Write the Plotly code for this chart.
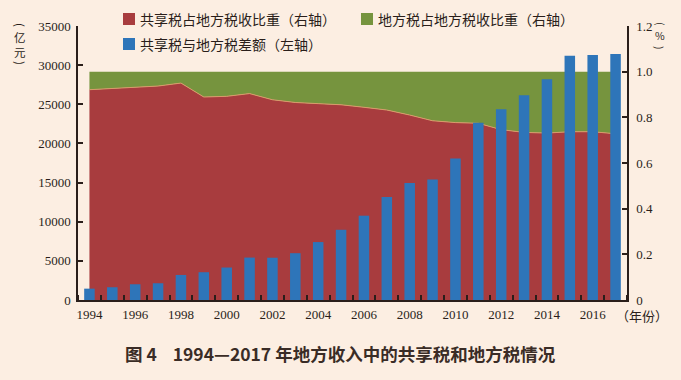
import plotly.graph_objects as go

years = [1994, 1995, 1996, 1997, 1998, 1999, 2000, 2001, 2002, 2003, 2004, 2005,
         2006, 2007, 2008, 2009, 2010, 2011, 2012, 2013, 2014, 2015, 2016, 2017]
shared_share = [0.921, 0.927, 0.931, 0.937, 0.950, 0.889, 0.892, 0.904, 0.877, 0.865, 0.860, 0.855,
                0.844, 0.832, 0.810, 0.785, 0.777, 0.774, 0.746, 0.734, 0.731, 0.737, 0.737, 0.728]
local_share = [0.079, 0.073, 0.069, 0.063, 0.050, 0.111, 0.108, 0.096, 0.123, 0.135, 0.140, 0.145,
               0.156, 0.168, 0.190, 0.215, 0.223, 0.226, 0.254, 0.266, 0.269, 0.263, 0.263, 0.272]
gap = [1450, 1630, 2010, 2140, 3200, 3550, 4150, 5420, 5400, 5980, 7400, 8970,
       10770, 13160, 14960, 15380, 18080, 22650, 24360, 26150, 28200, 31190, 31280, 31410]

x_labels = [1994, 1996, 1998, 2000, 2002, 2004, 2006, 2008, 2010, 2012, 2014, 2016]
left_ticks = [0, 5000, 10000, 15000, 20000, 25000, 30000, 35000]
right_ticks = [0, 0.2, 0.4, 0.6, 0.8, 1.0, 1.2]
right_text = ["0", "0.2", "0.4", "0.6", "0.8", "1.0", "1.2"]

RED = "#A83C3E"
GREEN = "#76943E"
BLUE = "#2E75B9"
BG = "#FCEEE2"
INK = "#2A1E1A"

names = ["共享税占地方税收比重（右轴）", "地方税占地方税收比重（右轴）", "共享税与地方税差额（左轴）"]

fig = go.Figure()
fig.add_trace(go.Scatter(x=years, y=shared_share, name=names[0], stackgroup="s",
                         mode="lines", line=dict(color="#D99A6A", width=1),
                         fillcolor=RED, yaxis="y", showlegend=False))
fig.add_trace(go.Scatter(x=years, y=local_share, name=names[1], stackgroup="s",
                         mode="lines", line=dict(color=GREEN, width=0),
                         fillcolor=GREEN, yaxis="y", showlegend=False))
fig.add_trace(go.Bar(x=years, y=gap, name=names[2], marker=dict(color=BLUE, line=dict(width=0)),
                     yaxis="y2", showlegend=False))

tickfont = dict(family="Liberation Serif", size=13, color=INK)
cjk = "Noto Sans CJK SC"

fig.update_layout(
    width=681, height=380,
    margin=dict(l=78, r=54, t=26, b=80),
    paper_bgcolor=BG, plot_bgcolor=BG,
    bargap=0.54,
    xaxis=dict(range=[1993.5, 2017.5], tickmode="array", tickvals=x_labels,
               ticks="", showline=True, linecolor=INK, linewidth=1.5,
               showgrid=False, zeroline=False, tickfont=tickfont, ticklabelstandoff=2,
               minor=dict(tickmode="linear", tick0=0.5, dtick=1, ticks="inside",
                          ticklen=5, tickwidth=1.5, tickcolor=INK, showgrid=False)),
    yaxis=dict(side="right", range=[0, 1.2], tickmode="array", tickvals=right_ticks,
               ticktext=right_text, ticks="inside", ticklen=5, tickwidth=1.5, tickcolor=INK,
               showline=True, linecolor=INK, linewidth=1.5, showgrid=False, zeroline=False,
               tickfont=tickfont, ticklabelstandoff=5),
    yaxis2=dict(side="left", overlaying="y", range=[0, 35000], tickmode="array",
                tickvals=left_ticks, tickformat="d", ticks="inside", ticklen=5, tickwidth=1.5,
                tickcolor=INK, showline=True, linecolor=INK, linewidth=1.5, showgrid=False,
                zeroline=False, tickfont=tickfont, ticklabelstandoff=3),
)

# Legend drawn manually
legend_items = [
    (names[0], RED, 123, 19),
    (names[1], GREEN, 361, 19),
    (names[2], BLUE, 123, 44),
]
for text, color, px, py in legend_items:
    fig.add_shape(type="rect", xref="paper", yref="paper",
                  x0=(px - 78) / 549, x1=(px + 12 - 78) / 549,
                  y0=(300 - (py + 6)) / 274, y1=(300 - (py - 6)) / 274,
                  fillcolor=color, line=dict(width=0))
    fig.add_annotation(text=text, xref="paper", yref="paper",
                       x=(px + 15 - 78) / 549, y=(300 - py) / 274,
                       xanchor="left", yanchor="middle", showarrow=False,
                       font=dict(family=cjk, size=14, color=INK))

# Axis unit labels (vertical: rotated parentheses, upright characters)
for ch, py, ang in [("(", 25, 90), ("亿", 37, 0), ("元", 52, 0), (")", 63, 90)]:
    fig.add_annotation(text=ch, xref="paper", yref="paper", textangle=ang,
                       x=(20 - 78) / 549, y=(300 - py) / 274, xanchor="center", yanchor="middle",
                       showarrow=False, font=dict(family=cjk, size=11.5, color=INK))
for ch, py, ang in [("(", 24, 90), ("%", 36, 0), (")", 48, 90)]:
    fig.add_annotation(text=ch, xref="paper", yref="paper", textangle=ang,
                       x=(660 - 78) / 549, y=(300 - py) / 274, xanchor="center", yanchor="middle",
                       showarrow=False, font=dict(family=cjk, size=10.5, color=INK))
fig.add_annotation(text="（年份）", xref="paper", yref="paper",
                   x=(642 - 78) / 549, y=(300 - 315) / 274, xanchor="center", yanchor="middle",
                   showarrow=False, font=dict(family=cjk, size=13, color=INK))

# Title
fig.add_annotation(text="<b>图 4    1994—2017 年地方收入中的共享税和地方税情况</b>",
                   xref="paper", yref="paper",
                   x=(340 - 78) / 549, y=(300 - 353) / 274, xanchor="center", yanchor="middle",
                   showarrow=False, font=dict(family=cjk, size=17.5, color="#3A2C26"))

fig.write_html("out.html", config={"displayModeBar": False},
               post_script="document.body.style.margin='0';document.body.style.background='%s';" % BG)
